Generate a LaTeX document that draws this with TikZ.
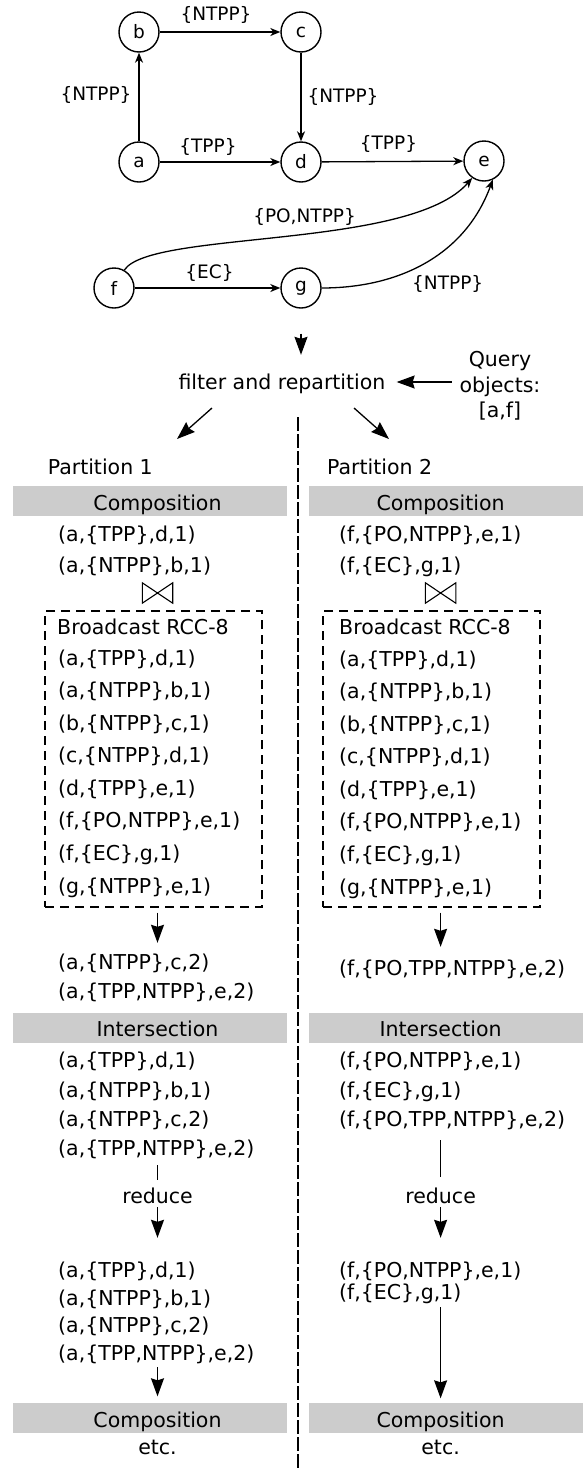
\documentclass[tikz,border=0pt]{standalone}
\usepackage{fontspec}
\setmainfont{DejaVu Sans}
\usetikzlibrary{arrows.meta}
\newcommand\txtfont{\fontsize{20.5}{24}\selectfont}
\newcommand\grfont{\fontsize{18.5}{22}\selectfont}
\begin{document}
\begin{tikzpicture}[x=1pt,y=1pt,
  vertex/.style={circle, draw, line width=1.4pt, minimum size=40pt, inner sep=0pt, font=\grfont},
  elabel/.style={font=\grfont, inner sep=0pt},
  garrow/.style={line width=1.3pt, -{Stealth[length=10pt,width=8pt,inset=3pt]}},
  txt/.style={font=\txtfont, inner sep=0pt, text height=17pt, text depth=3pt},
  row/.style={txt, anchor=west},
  bar/.style={fill=black!20, minimum width=274pt, minimum height=30pt, inner sep=0pt},
  bcast/.style={draw, dash pattern=on 9pt off 6pt, line width=1.3pt, minimum width=217pt, minimum height=296pt, inner sep=0pt},
  flow/.style={line width=1.3pt, -{Stealth[length=18pt,width=13pt,inset=2pt]}},
  stem/.style={line width=1.3pt},
  bowtienode/.style={minimum width=30pt, minimum height=20pt, inner sep=0pt},
  divider/.style={line width=2pt, dash pattern=on 13.5pt off 3.5pt},
]
\useasboundingbox (0,0) rectangle (588,-1470);

% ---------- input graph ----------
\node[vertex] (a) at (139,-162) {a};
\node[vertex] (b) at (139,-32) {b};
\node[vertex] (c) at (301,-32) {c};
\node[vertex] (d) at (301,-162) {d};
\node[vertex] (e) at (484,-161) {e};
\node[vertex] (f) at (114,-288) {f};
\node[vertex] (g) at (301,-288) {g};

\draw[garrow] (a) -- node[elabel, xshift=-43pt, yshift=2pt] {\{NTPP\}} (b);
\draw[garrow] (b) -- node[elabel, xshift=-4pt, yshift=17pt] {\{NTPP\}} (c);
\draw[garrow] (c) -- node[elabel, xshift=42pt] {\{NTPP\}} (d);
\draw[garrow] (a) -- node[elabel, xshift=-12pt, yshift=15pt] {\{TPP\}} (d);
\draw[garrow] (d) -- node[elabel, xshift=-4pt, yshift=18pt] {\{TPP\}} (e);
\draw[garrow] (f) -- node[elabel, xshift=2pt, yshift=15pt] {\{EC\}} (g);
\draw[garrow] (f.60) .. controls (150,-230) and (410,-250) ..
  node[elabel, pos=0.5, xshift=20pt, yshift=19pt] {\{PO,NTPP\}} (e.235);
\draw[garrow] (g) to[out=0, in=250]
  node[elabel, pos=0.5, xshift=21pt, yshift=-22pt] {\{NTPP\}} (e.295);

% ---------- filtering ----------
\node[txt] (filter) at (282,-382) {filter and repartition};
\node[font=\fontsize{20.5}{25.5}\selectfont, align=center, inner sep=0pt] (query) at (500,-386) {Query\\objects:\\{[a,f]}};
\draw[flow, shorten <=25pt, shorten >=17pt] (g) -- (g |- filter.north);
\draw[flow, shorten <=7.5pt, shorten >=11pt] (query.west |- filter) -- (filter.east);

\coordinate (p1s) at (212,-408);
\coordinate (p1e) at (177,-439);
\coordinate (p2s) at (354,-408);
\coordinate (p2e) at (389,-439);
\draw[flow] (p1s) -- (p1e);
\draw[flow] (p2s) -- (p2e);

\coordinate (dtop) at (297.7,-417);
\coordinate (dbot) at (297.7,-1470);
\draw[divider] (dtop) -- (dbot);

\node[row] (p1) at (47.6,-467) {Partition 1};
\node[row] (p2) at (327,-467) {Partition 2};

% ---------- composition ----------
\node[bar] (cb1) at (150,-501) {};
\node[bar] (cb2) at (446,-501) {};
\node[txt] (ct1) at (157.5,-503) {Composition};
\node[txt] (ct2) at (440.6,-503) {Composition};

\node[row] (l1) at (58,-534) {(a,\{TPP\},d,1)};
\node[row] (l2) at (58,-565) {(a,\{NTPP\},b,1)};
\node[row] (r1) at (339,-534) {(f,\{PO,NTPP\},e,1)};
\node[row] (r2) at (339,-565) {(f,\{EC\},g,1)};

\node[bowtienode] (j1) at (157.5,-593) {};
\node[bowtienode] (j2) at (440.6,-593) {};
\draw[line width=1.1pt] (j1.north west) -- (j1.south west) -- (j1.north east) -- (j1.south east) -- cycle;
\draw[line width=1.1pt] (j2.north west) -- (j2.south west) -- (j2.north east) -- (j2.south east) -- cycle;

\node[bcast] (bx1) at (153.5,-759) {};
\node[bcast] (bx2) at (431.5,-759) {};
\node[row] (bt1) at (57,-627) {Broadcast RCC-8};
\node[row] (bt2) at (339,-627) {Broadcast RCC-8};
\foreach \t [count=\k] in {{(a,\{TPP\},d,1)},{(a,\{NTPP\},b,1)},{(b,\{NTPP\},c,1)},{(c,\{NTPP\},d,1)},{(d,\{TPP\},e,1)},{(f,\{PO,NTPP\},e,1)},{(f,\{EC\},g,1)},{(g,\{NTPP\},e,1)}}{
  \node[row] (bl\k) at (58,{-658-(\k-1)*32.57}) {\t};
  \node[row] (br\k) at (339,{-659-(\k-1)*32.57}) {\t};
}

\node[row] (q1) at (58,-962) {(a,\{NTPP\},c,2)};
\node[row] (q2) at (58,-991) {(a,\{TPP,NTPP\},e,2)};
\node[row] (s1) at (339,-968) {(f,\{PO,TPP,NTPP\},e,2)};
\draw[flow, shorten <=5pt, shorten >=9pt] (bx1.south -| ct1) -- (q1.north -| ct1);
\draw[flow, shorten <=5pt, shorten >=11pt] (bx2.south -| ct2) -- (s1.north -| ct2);

% ---------- intersection ----------
\node[bar] (ib1) at (150,-1027.5) {};
\node[bar] (ib2) at (446,-1027.5) {};
\node[txt] (it1) at (157.5,-1029) {Intersection};
\node[txt] (it2) at (440.6,-1029) {Intersection};

\node[row] (u1) at (58,-1060) {(a,\{TPP\},d,1)};
\node[row] (u2) at (58,-1090) {(a,\{NTPP\},b,1)};
\node[row] (u3) at (58,-1119) {(a,\{NTPP\},c,2)};
\node[row] (u4) at (58,-1148) {(a,\{TPP,NTPP\},e,2)};
\node[row] (v1) at (339,-1060) {(f,\{PO,NTPP\},e,1)};
\node[row] (v2) at (339,-1090) {(f,\{EC\},g,1)};
\node[row] (v3) at (339,-1119) {(f,\{PO,TPP,NTPP\},e,2)};

\node[txt] (rd1) at (157.5,-1196) {reduce};
\node[txt] (rd2) at (440.6,-1196) {reduce};
\draw[stem, shorten <=7pt, shorten >=6pt] (u4.south -| rd1) -- (rd1);
\draw[stem, shorten <=11pt, shorten >=9pt] (v3.south -| rd2) -- (rd2);

\node[row] (w1) at (58,-1270) {(a,\{TPP\},d,1)};
\node[row] (w2) at (58,-1298) {(a,\{NTPP\},b,1)};
\node[row] (w3) at (58,-1325) {(a,\{NTPP\},c,2)};
\node[row] (w4) at (58,-1353) {(a,\{TPP,NTPP\},e,2)};
\node[row] (x1) at (339,-1270) {(f,\{PO,NTPP\},e,1)};
\node[row] (x2) at (339,-1292) {(f,\{EC\},g,1)};
\draw[flow, shorten <=1pt, shorten >=22pt] (rd1) -- (w1.north -| rd1);
\draw[flow, shorten <=1pt, shorten >=22pt] (rd2) -- (x1.north -| rd2);

% ---------- next composition ----------
\node[bar] (fb1) at (150,-1417.5) {};
\node[bar] (fb2) at (446,-1417.5) {};
\node[txt] (ft1) at (157.5,-1420) {Composition};
\node[txt] (ft2) at (440.6,-1420) {Composition};
\draw[flow, shorten <=4pt, shorten >=6pt] (w4.south -| rd1) -- (fb1.north -| rd1);
\draw[flow, shorten <=5pt, shorten >=4pt] (x2.south -| rd2) -- (fb2.north -| rd2);

\node[txt] (et1) at (157.5,-1447) {etc.};
\node[txt] (et2) at (440.6,-1447) {etc.};
\end{tikzpicture}
\end{document}
